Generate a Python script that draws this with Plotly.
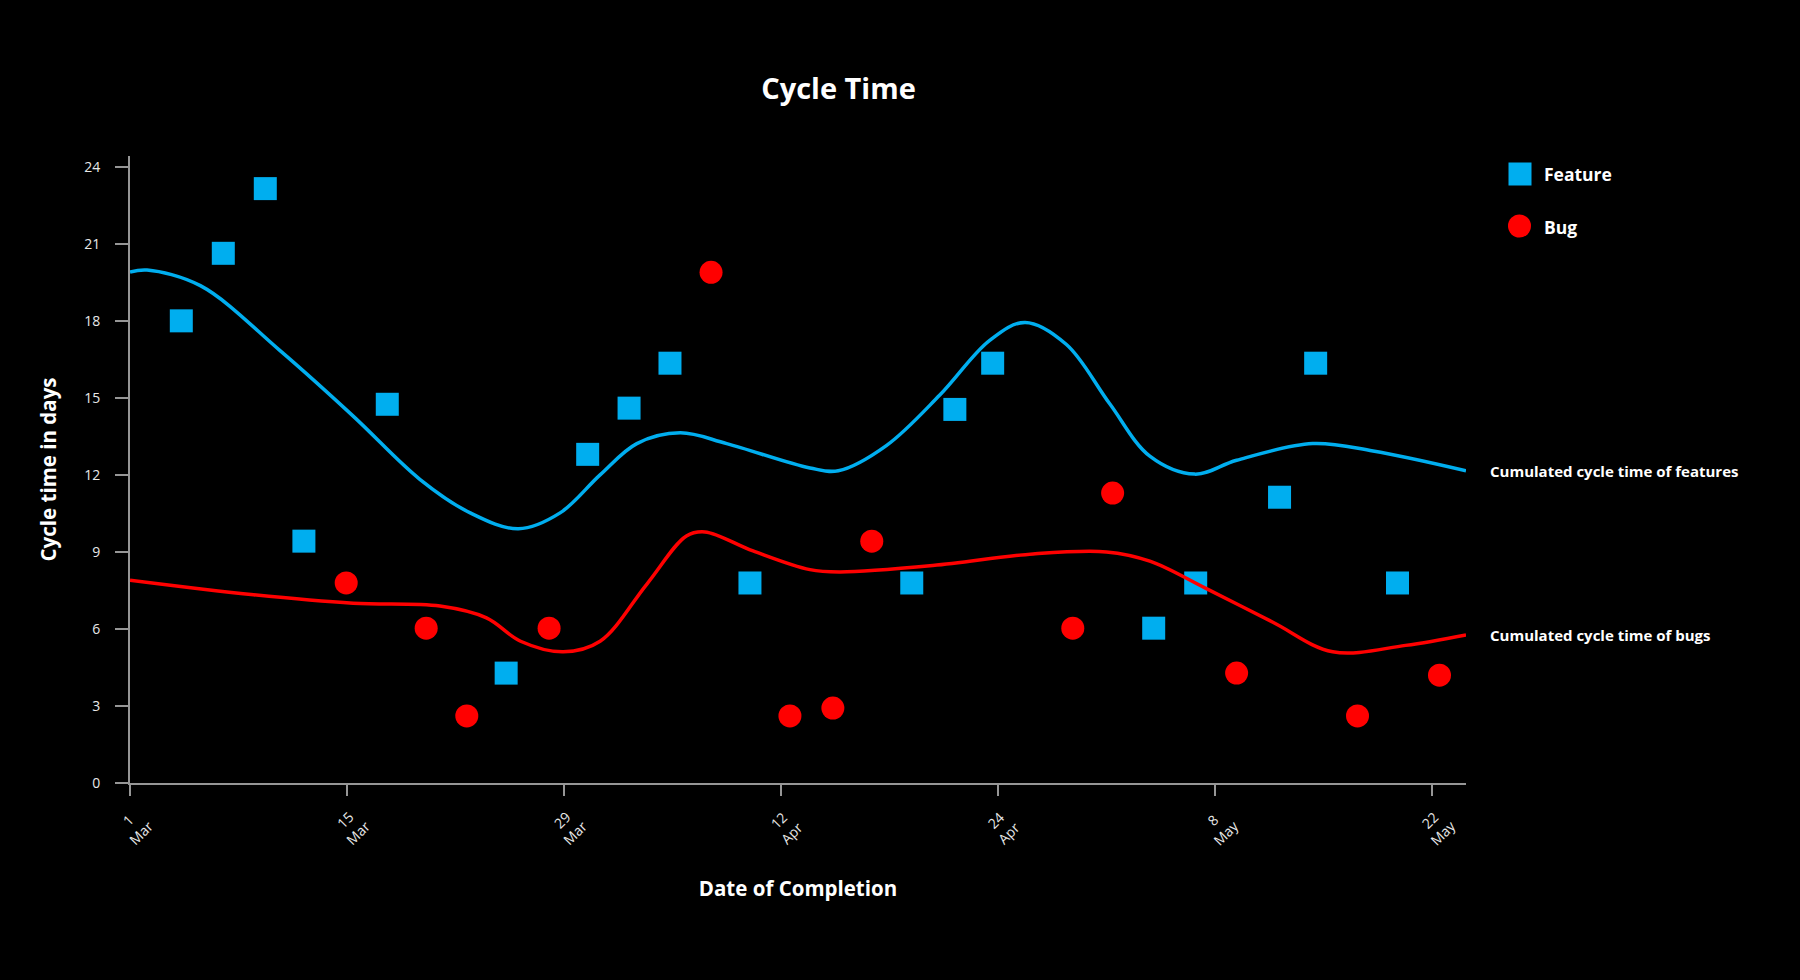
import plotly.graph_objects as go

# ---------------- data (days since 1 Mar, cycle time in days) ----------------
feature_day = [3.31, 6.02, 8.73, 11.22, 16.6, 24.27, 29.53, 32.2, 34.84, 40.0,
               50.44, 53.22, 55.66, 58.44, 66.05, 68.76, 74.17, 76.5, 81.78]
feature_ct = [18.0, 20.63, 23.15, 9.42, 14.75, 4.28, 12.8, 14.6, 16.35, 7.79,
              7.79, 14.55, 16.35, 24.82, 6.03, 7.79, 11.13, 16.35, 7.79]

bug_day = [13.95, 19.11, 21.73, 27.04, 37.49, 42.58, 45.35, 47.86, 60.83, 63.4,
           71.4, 79.2, 84.49]
bug_ct = [7.79, 6.03, 2.61, 6.03, 19.89, 2.61, 2.92, 9.42, 6.03, 11.29,
          4.28, 2.61, 4.2]

feat_curve_day = [0, 1.1, 4.54, 9.7, 14.4, 18.7, 21.95, 25.06, 27.75, 30.33, 32.7,
                  35.5, 38.5, 43.87, 45.7, 48.8, 52.25, 55.47, 57.75, 60.42, 63.2,
                  65.8, 68.7, 71.4, 76.3, 80.2, 86.2]
feat_curve_ct = [19.9, 19.98, 19.37, 16.83, 14.29, 11.83, 10.52, 9.9, 10.52, 12.0, 13.22,
                 13.64, 13.22, 12.27, 12.16, 13.14, 15.11, 17.24, 17.94, 17.08, 14.78,
                 12.73, 12.03, 12.57, 13.22, 12.93, 12.16]

bug_curve_day = [0, 7.98, 14.4, 20.0, 23.0, 25.2, 27.96, 30.33, 33.34, 35.9, 37.1,
                 40.2, 43.87, 45.8, 51.8, 58.27, 63.0, 65.8, 69.45, 73.74, 77.6,
                 82.3, 86.2]
bug_curve_ct = [7.9, 7.33, 7.0, 6.89, 6.43, 5.52, 5.11, 5.52, 7.74, 9.62, 9.78,
                9.04, 8.31, 8.22, 8.47, 8.92, 9.0, 8.64, 7.57, 6.26, 5.11,
                5.36, 5.77]

tick_vals = [0, 14, 28, 42, 56, 70, 84]
tick_text = ["1<br>Mar", "15<br>Mar", "29<br>Mar", "12<br>Apr", "24<br>Apr", "8<br>May", "22<br>May"]
y_ticks = [0, 3, 6, 9, 12, 15, 18, 21, 24]

# ---------------- style ----------------
BLUE = "#00AEEF"
RED = "#FF0000"
AXIS = "#969696"
TXT = "#E8E8E8"
FONT = "Open Sans"

W, H = 1800, 980
PL, PR, PT, PB = 130, 1466, 156, 783


def pxx(px):
    return (px - PL) / (PR - PL)


def pxy(py):
    return (PB - py) / (PB - PT)


fig = go.Figure()

fig.add_trace(go.Scatter(x=feature_day, y=feature_ct, mode="markers", name="Feature",
                         marker=dict(symbol="square", size=23, color=BLUE, line=dict(width=0)),
                         cliponaxis=False, showlegend=False))
fig.add_trace(go.Scatter(x=bug_day, y=bug_ct, mode="markers", name="Bug",
                         marker=dict(symbol="circle", size=23, color=RED, line=dict(width=0)),
                         cliponaxis=False, showlegend=False))
fig.add_trace(go.Scatter(x=feat_curve_day, y=feat_curve_ct, mode="lines",
                         name="Cumulated cycle time of features",
                         line=dict(color=BLUE, width=3.5, shape="spline", smoothing=1),
                         cliponaxis=False, showlegend=False))
fig.add_trace(go.Scatter(x=bug_curve_day, y=bug_curve_ct, mode="lines",
                         name="Cumulated cycle time of bugs",
                         line=dict(color=RED, width=3.5, shape="spline", smoothing=1),
                         cliponaxis=False, showlegend=False))

annotations = []
# x tick labels (rotated, centred under each tick)
for tv, tt in zip(tick_vals, tick_text):
    annotations.append(dict(x=tv, xref="x", y=0, yref="paper", text=tt, textangle=-45,
                            showarrow=False, xanchor="center", yanchor="middle",
                            xshift=4, yshift=-43, font=dict(family=FONT, size=14, color=TXT)))

# curve end labels
annotations.append(dict(x=feat_curve_day[-1], y=feat_curve_ct[-1], xref="x", yref="y",
                        text="<b>Cumulated cycle time of features</b>", showarrow=False,
                        xanchor="left", yanchor="middle", xshift=22,
                        font=dict(family=FONT, size=15, color="white")))
annotations.append(dict(x=bug_curve_day[-1], y=bug_curve_ct[-1], xref="x", yref="y",
                        text="<b>Cumulated cycle time of bugs</b>", showarrow=False,
                        xanchor="left", yanchor="middle", xshift=22,
                        font=dict(family=FONT, size=15, color="white")))

# legend texts
annotations.append(dict(x=pxx(1542), y=pxy(174), xref="paper", yref="paper",
                        text="<b>Feature</b>", showarrow=False, xanchor="left", yanchor="middle",
                        font=dict(family=FONT, size=17.5, color="white")))
annotations.append(dict(x=pxx(1542), y=pxy(227), xref="paper", yref="paper",
                        text="<b>Bug</b>", showarrow=False, xanchor="left", yanchor="middle",
                        font=dict(family=FONT, size=17.5, color="white")))

shapes = [
    dict(type="rect", xref="paper", yref="paper",
         x0=pxx(1508.5), x1=pxx(1531.5), y0=pxy(185.5), y1=pxy(162.5),
         fillcolor=BLUE, line=dict(width=0)),
    dict(type="circle", xref="paper", yref="paper",
         x0=pxx(1508), x1=pxx(1531), y0=pxy(237.5), y1=pxy(214.5),
         fillcolor=RED, line=dict(width=0)),
]

fig.update_layout(
    width=W, height=H,
    paper_bgcolor="black", plot_bgcolor="black",
    margin=dict(l=PL, r=W - PR, t=PT, b=H - PB, autoexpand=False),
    font=dict(family=FONT, color=TXT),
    title=dict(text="<b>Cycle Time</b>", x=838.5 / W, xref="container", xanchor="center",
               y=1 - 89 / H, yref="container", yanchor="middle",
               font=dict(family=FONT, size=29, color="white")),
    xaxis=dict(range=[0, 86.2], tickvals=tick_vals, showticklabels=False,
               ticks="outside", ticklen=11, tickwidth=2, tickcolor=AXIS,
               showline=True, linecolor=AXIS, linewidth=2,
               showgrid=False, zeroline=False,
               title=dict(text="<b>Date of Completion</b>", standoff=87,
                          font=dict(family=FONT, size=20.5, color="white"))),
    yaxis=dict(range=[0, 24.42], tickvals=y_ticks,
               ticks="outside", ticklen=13, tickwidth=2, tickcolor=AXIS,
               showline=True, linecolor=AXIS, linewidth=2,
               showgrid=False, zeroline=False, ticklabelstandoff=12,
               tickfont=dict(family=FONT, size=14, color=TXT),
               title=dict(text="<b>Cycle time in days</b>", standoff=22,
                          font=dict(family=FONT, size=20.5, color="white"))),
    annotations=annotations,
    shapes=shapes,
    showlegend=False,
)

fig.write_html(
    "out.html",
    config={"displayModeBar": False},
    post_script="document.body.style.margin='0';document.body.style.background='black';",
)
